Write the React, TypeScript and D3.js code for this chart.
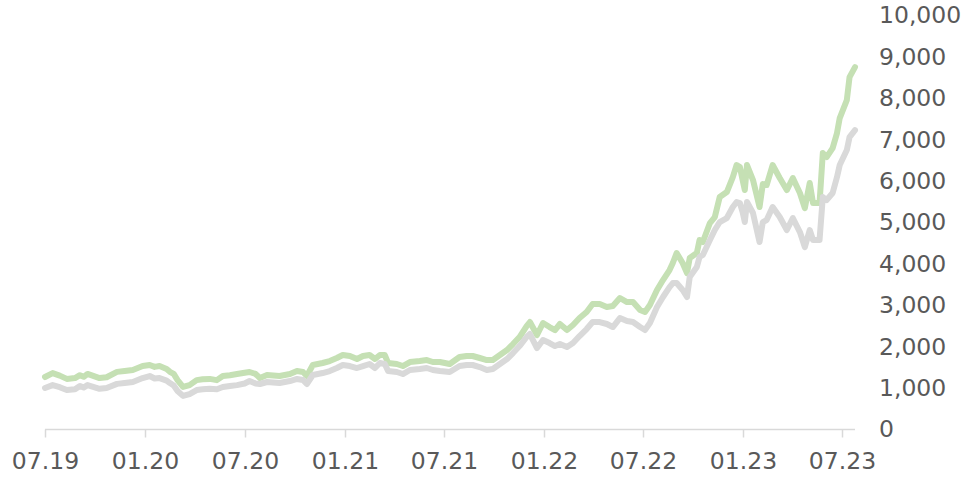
import React from "react";
import * as d3 from "d3";

const dates = [
  "2019-07-01", "2019-07-15", "2019-07-28", "2019-08-10", "2019-08-25", "2019-09-03", "2019-09-10", "2019-09-17",
  "2019-10-09", "2019-10-22", "2019-11-10", "2019-11-24", "2019-12-09", "2019-12-27", "2020-01-09", "2020-01-18",
  "2020-01-27", "2020-02-09", "2020-02-15", "2020-02-22", "2020-02-29", "2020-03-10", "2020-03-22", "2020-04-04",
  "2020-04-15", "2020-04-28", "2020-05-11", "2020-05-22", "2020-06-04", "2020-06-17", "2020-07-01", "2020-07-10",
  "2020-07-21", "2020-07-29", "2020-08-11", "2020-09-03", "2020-09-22", "2020-10-05", "2020-10-16", "2020-10-23",
  "2020-11-03", "2020-11-21", "2020-12-04", "2020-12-17", "2020-12-28", "2021-01-10", "2021-01-23", "2021-02-03",
  "2021-02-15", "2021-02-25", "2021-03-06", "2021-03-15", "2021-03-21", "2021-04-06", "2021-04-17", "2021-04-30",
  "2021-05-18", "2021-05-31", "2021-06-11", "2021-06-24", "2021-07-12", "2021-07-30", "2021-08-12", "2021-08-23",
  "2021-09-05", "2021-09-18", "2021-09-29", "2021-10-12", "2021-10-25", "2021-11-05", "2021-11-17", "2021-11-30",
  "2021-12-06", "2021-12-19", "2021-12-30", "2022-01-11", "2022-01-21", "2022-01-30", "2022-02-12", "2022-02-23",
  "2022-03-07", "2022-03-20", "2022-03-31", "2022-04-13", "2022-04-26", "2022-05-07", "2022-05-20", "2022-06-02",
  "2022-06-13", "2022-06-26", "2022-07-05", "2022-07-14", "2022-07-27", "2022-08-07", "2022-08-19", "2022-08-25",
  "2022-09-01", "2022-09-12", "2022-09-20", "2022-09-25", "2022-10-08", "2022-10-13", "2022-10-19", "2022-11-01",
  "2022-11-10", "2022-11-19", "2022-12-02", "2022-12-13", "2022-12-20", "2022-12-26", "2022-12-31", "2023-01-04",
  "2023-01-08", "2023-01-19", "2023-01-31", "2023-02-06", "2023-02-13", "2023-02-24", "2023-03-09", "2023-03-22",
  "2023-04-02", "2023-04-15", "2023-04-24", "2023-05-03", "2023-05-09", "2023-05-21", "2023-05-27", "2023-06-03",
  "2023-06-14", "2023-06-22", "2023-06-27", "2023-07-10", "2023-07-15", "2023-07-25",
];

const greenValues = [
  1256, 1350, 1290, 1210, 1230, 1300, 1260, 1330,
  1230, 1250, 1380, 1400, 1425, 1520, 1545, 1500,
  1520, 1450, 1380, 1330, 1180, 1015, 1060, 1180,
  1200, 1210, 1180, 1280, 1300, 1330, 1360, 1377,
  1330, 1232, 1304, 1280, 1328, 1400, 1377, 1280,
  1546, 1594, 1642, 1715, 1787, 1763, 1690, 1763,
  1787, 1690, 1787, 1787, 1594, 1570, 1521, 1618,
  1642, 1666, 1618, 1618, 1570, 1739, 1763, 1763,
  1715, 1666, 1666, 1787, 1908, 2053, 2222, 2487,
  2584, 2270, 2560, 2463, 2390, 2536, 2390, 2511,
  2680, 2825, 3019, 3019, 2946, 2970, 3164, 3067,
  3067, 2874, 2825, 2995, 3357, 3598, 3840, 4009,
  4250, 4009, 3767, 4130, 4250, 4565, 4516, 4975,
  5120, 5603, 5724, 6086, 6376, 6327, 6013, 5772,
  6376, 6013, 5361, 5917, 5893, 6376, 6062, 5772,
  6062, 5700, 5337, 5941, 5458, 5458, 6665, 6569,
  6786, 7148, 7511, 7945, 8500, 8742,
];

const grayValues = [
  990, 1060, 1010, 940, 960, 1040, 1000, 1060,
  970, 990, 1090, 1110, 1135, 1230, 1280, 1220,
  1230, 1170, 1110, 1050, 920, 800, 845, 940,
  960, 970, 960, 1015, 1040, 1060, 1100, 1159,
  1100, 1087, 1135, 1111, 1159, 1208, 1183, 1087,
  1304, 1352, 1400, 1473, 1546, 1521, 1473, 1521,
  1570, 1473, 1594, 1570, 1400, 1377, 1328, 1425,
  1449, 1473, 1425, 1400, 1377, 1521, 1546, 1546,
  1497, 1425, 1449, 1570, 1690, 1835, 2004, 2222,
  2294, 1956, 2149, 2077, 2004, 2053, 1980, 2077,
  2246, 2415, 2584, 2584, 2536, 2463, 2680, 2608,
  2584, 2463, 2391, 2560, 2946, 3188, 3429, 3526,
  3526, 3357, 3188, 3671, 3912, 4154, 4202, 4564,
  4806, 4999, 5096, 5361, 5482, 5458, 5240, 4999,
  5482, 5216, 4516, 4999, 5047, 5361, 5120, 4806,
  5096, 4758, 4395, 4806, 4564, 4564, 5603, 5530,
  5700, 6086, 6376, 6738, 7052, 7221,
];

const xTickDates = ["2019-07-01", "2020-01-01", "2020-07-01", "2021-01-01", "2021-07-01", "2022-01-01", "2022-07-01", "2023-01-01", "2023-07-01"];
const yTicks = [0, 1000, 2000, 3000, 4000, 5000, 6000, 7000, 8000, 9000, 10000];

const width = 967;
const height = 479;
const textColor = "#595959";
const fontFamily = "Verdana, 'DejaVu Sans', sans-serif";
const fontSize = 23.5;

export default function App() {
  const parse = d3.utcParse("%Y-%m-%d");
  const xs = dates.map((d) => parse(d) as Date);

  const x = d3
    .scaleUtc()
    .domain([parse("2019-07-01") as Date, parse("2023-07-25") as Date])
    .range([45, 855]);
  const y = d3.scaleLinear().domain([0, 10000]).range([429, 15]);

  const line = d3
    .line<number>()
    .x((_, i) => x(xs[i]))
    .y((v) => y(v))
    .curve(d3.curveLinear);

  const fmtTick = d3.utcFormat("%m.%y");
  const fmtNum = d3.format(",");
  const axisY = 429.5;

  return (
    <svg
      width={width}
      height={height}
      style={{ position: "absolute", left: 0, top: 0, background: "#fff" }}
      fontFamily={fontFamily}
    >
      {/* series */}
      <path d={line(greenValues) || ""} fill="none" stroke="#c5e0b4" strokeWidth={6} strokeLinejoin="round" strokeLinecap="round" />
      <path d={line(grayValues) || ""} fill="none" stroke="#d9d9d9" strokeWidth={6} strokeLinejoin="round" strokeLinecap="round" />

      {/* x axis */}
      <line x1={45} x2={855} y1={axisY} y2={axisY} stroke="#d9d9d9" strokeWidth={1.5} />
      {xTickDates.map((d) => {
        const tx = Math.round(x(parse(d) as Date)) + 0.5;
        return (
          <g key={d}>
            <line x1={tx} x2={tx} y1={axisY} y2={axisY + 8} stroke="#d9d9d9" strokeWidth={1.5} />
            <text x={tx} y={469} textAnchor="middle" fontSize={fontSize} fill={textColor}>
              {fmtTick(parse(d) as Date)}
            </text>
          </g>
        );
      })}

      {/* y axis labels, right side */}
      {yTicks.map((t) => (
        <text key={t} x={879} y={y(t)} dy="0.36em" textAnchor="start" fontSize={fontSize} fill={textColor}>
          {fmtNum(t)}
        </text>
      ))}
    </svg>
  );
}
